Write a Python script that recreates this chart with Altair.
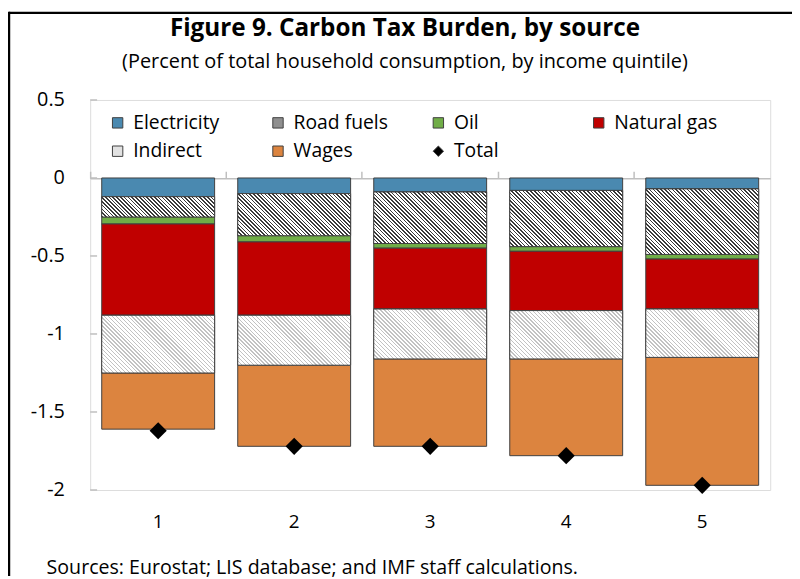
import math
import altair as alt
import pandas as pd

# ---------------- data ----------------
quintiles = [1, 2, 3, 4, 5]
series_names = ["Electricity", "Road fuels", "Oil", "Natural gas", "Indirect", "Wages"]
electricity = [-0.12, -0.10, -0.09, -0.08, -0.07]
road_fuels = [-0.13, -0.27, -0.33, -0.36, -0.42]
oil = [-0.045, -0.04, -0.03, -0.03, -0.03]
natural_gas = [-0.585, -0.47, -0.39, -0.38, -0.32]
indirect = [-0.37, -0.32, -0.32, -0.31, -0.31]
wages = [-0.36, -0.52, -0.56, -0.62, -0.82]
total = [-1.62, -1.72, -1.72, -1.78, -1.97]
y_tick_values = [0.5, 0, -0.5, -1, -1.5, -2]
legend_entries = series_names + ["Total"]

title_text = ["Figure 9. Carbon Tax Burden, by source"]
subtitle_text = ["(Percent of total household consumption, by income quintile)"]
footer_text = ["Sources: Eurostat; LIS database; and IMF staff calculations."]

# ---------------- styles ----------------
FONT = "Open Sans"
colors = ["#4a89b0", "#8f8f8f", "#70ad47", "#c00000", "#e2e2e2", "#dc843f", "#000000"]
shapes = ["square"] * 6 + ["diamond"]
W, H = 687, 394
DOMAIN = [-2, 0.5]
PX_PER_UNIT = H / (DOMAIN[1] - DOMAIN[0])
BAND = 0.83
BAR_W = W / len(quintiles) * BAND

values_by_series = [electricity, road_fuels, oil, natural_gas, indirect, wages]
rows = []
for si, (name, vals) in enumerate(zip(series_names, values_by_series)):
    for q, v in zip(quintiles, vals):
        rows.append({"quintile": q, "series": name, "ord": si, "value": v})
df_parts = pd.DataFrame(rows)
df_total = pd.DataFrame({"quintile": quintiles, "series": "Total", "value": total})


def hatch_gradient(h, line_color, line_frac, pitch):
    """Diagonal '\\' stripes made from a linear gradient with hard stops."""
    w = BAR_W
    s = (w + h) / (w * w + h * h)
    x2 = w * s
    y2 = 1 - h * s
    L = (w + h) / math.sqrt(2)
    stops = []
    k = 0
    while k * pitch < L:
        a = k * pitch / L
        b = min(1.0, (k * pitch + pitch * line_frac) / L)
        c = min(1.0, (k + 1) * pitch / L)
        stops += [
            {"offset": round(a, 5), "color": line_color},
            {"offset": round(b, 5), "color": line_color},
            {"offset": round(b, 5), "color": "#ffffff"},
            {"offset": round(c, 5), "color": "#ffffff"},
        ]
        k += 1
    return {"gradient": "linear", "x1": 0, "y1": 1, "x2": x2, "y2": y2, "stops": stops}


hatch_style = {"Road fuels": ("#3a3a3a", 0.42, 2.7), "Indirect": ("#c2c2c2", 0.36, 2.8)}
conditions = []
for name, vals in [("Road fuels", road_fuels), ("Indirect", indirect)]:
    col, frac, pitch = hatch_style[name]
    for q, v in zip(quintiles, vals):
        conditions.append({
            "test": f"datum.series === '{name}' && datum.quintile === {q}",
            "value": hatch_gradient(abs(v) * PX_PER_UNIT, col, frac, pitch),
        })

y_scale = alt.Scale(domain=DOMAIN, nice=False, zero=False)
x_scale = alt.Scale(paddingInner=0, paddingOuter=0)


def make_legend():
    return alt.Legend(
        orient="none", legendX=18, legendY=13, columns=4, direction="horizontal",
        title=None, symbolSize=110, symbolStrokeColor="#404040", symbolStrokeWidth=1,
        labelFontSize=19.5, labelFont=FONT, labelColor="#000000",
        gridAlign="all", columnPadding=32, rowPadding=8, labelOffset=6, padding=0,
    )


color_enc = alt.Color(
    "series:N",
    scale=alt.Scale(domain=legend_entries, range=colors),
    legend=make_legend(),
)

stacked = alt.Chart(df_parts).transform_stack(
    stack="value", groupby=["quintile"], as_=["v0", "v1"],
    sort=[alt.SortField("ord", order="ascending")],
)

bars = stacked.mark_bar(
    width=alt.RelativeBandSize(BAND), stroke="#404040", strokeWidth=1
).encode(
    x=alt.X("quintile:O", scale=x_scale,
            axis=alt.Axis(orient="bottom", ticks=False, domain=False, labelAngle=0,
                          labelPadding=23, labelFontSize=19, labelFont=FONT,
                          labelColor="#000000", title=None)),
    y=alt.Y("v0:Q", scale=y_scale,
            axis=alt.Axis(values=y_tick_values, labelExpr="'' + datum.value",
                          ticks=False, domain=False, grid=False, labelPadding=26,
                          labelFontSize=20, labelFont=FONT, labelColor="#000000",
                          title=None)),
    y2="v1:Q",
    color=color_enc,
)

hatch = stacked.transform_filter(
    alt.FieldOneOfPredicate(field="series", oneOf=["Road fuels", "Indirect"])
).mark_bar(
    width=alt.RelativeBandSize(BAND), stroke="#404040", strokeWidth=1
).encode(
    x=alt.X("quintile:O", scale=x_scale, axis=None),
    y=alt.Y("v0:Q", scale=y_scale),
    y2="v1:Q",
    fill=alt.FillValue(value="#cccccc", condition=conditions),
)

points = alt.Chart(df_total).mark_point(
    filled=True, size=300, opacity=1, strokeWidth=0
).encode(
    x=alt.X("quintile:O", scale=x_scale,
            axis=alt.Axis(orient="top", offset=-79, labels=False, title=None,
                          domainColor="#bfbfbf", domainWidth=1.5, tickColor="#bfbfbf",
                          tickWidth=1.5, tickSize=7, bandPosition=0)),
    y=alt.Y("value:Q", scale=y_scale),
    color=color_enc,
    shape=alt.Shape("series:N", scale=alt.Scale(domain=legend_entries, range=shapes),
                    legend=make_legend()),
)

y_ticks = alt.Chart(pd.DataFrame({"t": y_tick_values})).mark_rule(
    color="#bfbfbf", strokeWidth=1.5
).encode(y=alt.Y("t:Q", scale=y_scale), x=alt.value(0), x2=alt.value(7))

frame_src = pd.DataFrame({"k": [0]})
frame_top = alt.Chart(frame_src).mark_rule(color="#000000", strokeWidth=2.5).encode(
    x=alt.value(-82), x2=alt.value(709), y=alt.value(-88))
frame_left = alt.Chart(frame_src).mark_rule(color="#000000", strokeWidth=2.5).encode(
    x=alt.value(-82), y=alt.value(-89), y2=alt.value(481))

title_mark = alt.Chart(pd.DataFrame({"txt": title_text})).mark_text(
    align="center", baseline="alphabetic", fontSize=24.5, fontWeight="bold",
    font=FONT, color="#000000"
).encode(text="txt:N", x=alt.value(318), y=alt.value(-65))

subtitle_mark = alt.Chart(pd.DataFrame({"txt": subtitle_text})).mark_text(
    align="center", baseline="alphabetic", fontSize=20.1, font=FONT, color="#000000"
).encode(text="txt:N", x=alt.value(318), y=alt.value(-32))

footer = alt.Chart(pd.DataFrame({"txt": footer_text})).mark_text(
    align="left", baseline="middle", fontSize=19.8, font=FONT, color="#000000"
).encode(text="txt:N", x=alt.value(-44), y=alt.value(473))

chart = alt.layer(
    bars, hatch, y_ticks, points, frame_top, frame_left,
    title_mark, subtitle_mark, footer
).resolve_axis(x="independent").properties(
    width=W, height=H,
    padding={"left": 83, "top": 90, "right": 22, "bottom": 87},
    autosize=alt.AutoSizeParams(type="none"),
).configure_view(stroke="#c8c8c8", strokeWidth=1.5).configure(background="white")

chart.save("out.html", embed_options={"renderer": "svg", "actions": False})
